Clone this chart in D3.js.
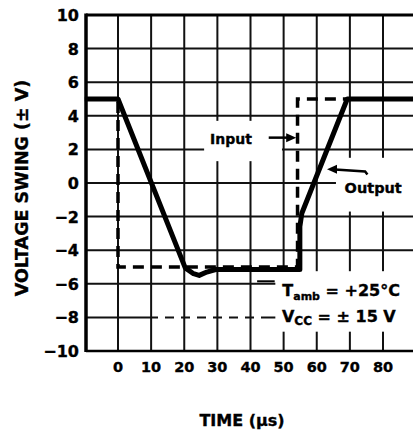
<!DOCTYPE html>
<html>
<head>
<meta charset="utf-8">
<script src="https://cdn.jsdelivr.net/npm/d3@7"></script>
<style>
  body { margin: 0; background: #fff; }
  svg { display: block; }
  text { font-family: "DejaVu Sans", sans-serif; font-weight: bold; fill: #000; stroke: #000; stroke-width: 0.35px; }
</style>
</head>
<body>
<div id="chart"></div>
<script>
const width = 413, height = 438;

// values
const timeTicks = [0, 10, 20, 30, 40, 50, 60, 70, 80];
const voltTicks = [-10, -8, -6, -4, -2, 0, 2, 4, 6, 8, 10];
const outputTime = [-10, 0, 20.3, 22.8, 24.5, 26.8, 29.5, 54.9, 54.9, 55.5, 69.2, 92];
const outputVolt = [5, 5, -5.05, -5.4, -5.5, -5.3, -5.15, -5.15, -2.6, -1.8, 5, 5];
const inputTime = [-10, 0, 0, 54.2, 54.2, 92];
const inputVolt = [5, 5, -5, -5, 5, 5];

const margin = {top: 15, left: 86, right: 0, bottom: 87};

const x = d3.scaleLinear().domain([0, 80]).range([118, 383]);
const y = d3.scaleLinear().domain([-10, 10]).range([351, 15]);

const svg = d3.select("#chart").append("svg")
    .attr("width", width)
    .attr("height", height);

// grid
svg.append("g")
  .selectAll("line")
  .data(voltTicks.filter(d => d !== 10 && d !== -10))
  .enter().append("line")
    .attr("x1", margin.left).attr("x2", width)
    .attr("y1", d => y(d)).attr("y2", d => y(d))
    .attr("stroke", "#111")
    .attr("stroke-width", 2)
    .attr("stroke-dasharray", d => d === -8 ? "72,7,9,7,9,7,9,7,9,7,9,7,9,7,400" : null);

svg.append("g")
  .selectAll("line")
  .data(timeTicks)
  .enter().append("line")
    .attr("x1", d => x(d)).attr("x2", d => x(d))
    .attr("y1", y(10)).attr("y2", y(-10))
    .attr("stroke", "#111")
    .attr("stroke-width", 2);

// frame
svg.append("line").attr("x1", margin.left).attr("x2", width)
    .attr("y1", y(10)).attr("y2", y(10))
    .attr("stroke", "#000").attr("stroke-width", 3);
svg.append("line").attr("x1", margin.left).attr("x2", width)
    .attr("y1", y(-10)).attr("y2", y(-10))
    .attr("stroke", "#000").attr("stroke-width", 2.5);
svg.append("line").attr("x1", margin.left).attr("x2", margin.left)
    .attr("y1", y(10) - 1.5).attr("y2", y(-10) + 1)
    .attr("stroke", "#000").attr("stroke-width", 3.5);

// white patches behind the annotations
const boxes = [
  {t0: 26, t1: 49.5, v0: 3.7, v1: 1.3},
  {t0: 65.8, t1: 92, v0: 1.5, v1: -1.7},
  {t0: 47.5, t1: 92, v0: -5.25, v1: -8.85}
];
svg.append("g")
  .selectAll("rect")
  .data(boxes)
  .enter().append("rect")
    .attr("x", d => x(d.t0))
    .attr("y", d => y(d.v0))
    .attr("width", d => x(d.t1) - x(d.t0))
    .attr("height", d => y(d.v1) - y(d.v0))
    .attr("fill", "#fff");

// curves
const line = d3.line()
    .x(d => x(d[0]))
    .y(d => y(d[1]));

svg.append("path")
    .datum(inputTime.map((t, i) => [t, inputVolt[i]]))
    .attr("d", line)
    .attr("fill", "none")
    .attr("stroke", "#000")
    .attr("stroke-width", 3.5)
    .attr("stroke-dasharray", "11,7");

svg.append("path")
    .datum(outputTime.map((t, i) => [t, outputVolt[i]]))
    .attr("d", line)
    .attr("fill", "none")
    .attr("stroke", "#000")
    .attr("stroke-width", 5)
    .attr("stroke-linejoin", "round");

// axes labels
svg.append("g")
  .selectAll("text")
  .data(voltTicks)
  .enter().append("text")
    .attr("x", 79)
    .attr("y", d => y(d) + 6)
    .attr("text-anchor", "end")
    .style("font-size", "16px")
    .text(d => d < 0 ? "\u2212" + Math.abs(d) : d);

svg.append("g")
  .selectAll("text")
  .data(timeTicks)
  .enter().append("text")
    .attr("x", d => x(d))
    .attr("y", 372)
    .attr("text-anchor", "middle")
    .style("font-size", "14.5px")
    .text(d => d);

svg.append("text")
    .attr("transform", "translate(28," + 188 + ") rotate(-90)")
    .attr("text-anchor", "middle")
    .style("font-size", "17.5px")
    .text("VOLTAGE SWING (\u00b1 V)");

svg.append("text")
    .attr("x", 242)
    .attr("y", 426)
    .attr("text-anchor", "middle")
    .style("font-size", "16px")
    .text("TIME (\u00b5s)");

// annotations
svg.append("text")
    .attr("x", x(27.8)).attr("y", y(2.35))
    .style("font-size", "14px")
    .text("Input");

svg.append("text")
    .attr("x", x(68.4)).attr("y", y(-0.6))
    .style("font-size", "14.5px")
    .text("Output");

const tamb = svg.append("text")
    .attr("x", x(49.6)).attr("y", y(-6.75))
    .style("font-size", "16px");
tamb.append("tspan").text("T");
tamb.append("tspan").attr("dy", 4).style("font-size", "11px").text("amb");
tamb.append("tspan").attr("dy", -4).text(" = +25\u00b0C");

const vcc = svg.append("text")
    .attr("x", x(49.5)).attr("y", y(-8.25))
    .style("font-size", "16px");
vcc.append("tspan").text("V");
vcc.append("tspan").attr("dy", 3).style("font-size", "12px").text("CC");
vcc.append("tspan").attr("dy", -3).text(" = \u00b1 15 V");

// leader for Tamb
svg.append("line")
    .attr("x1", x(42)).attr("x2", x(47.3))
    .attr("y1", y(-5.85)).attr("y2", y(-5.85))
    .attr("stroke", "#000").attr("stroke-width", 2);

// arrows
const arrows = [
  {pts: [[45.5, 2.7], [52.2, 2.7]], tip: [53.8, 2.7], dir: 1},
  {pts: [[75.3, 0.5], [74.6, 0.68], [65.5, 0.8]], tip: [63.1, 0.82], dir: -1}
];
arrows.forEach(a => {
  svg.append("path")
      .datum(a.pts)
      .attr("d", line)
      .attr("fill", "none")
      .attr("stroke", "#000")
      .attr("stroke-width", 2.5);
  const tx = x(a.tip[0]), ty = y(a.tip[1]);
  svg.append("path")
      .attr("d", `M${tx},${ty} L${tx - a.dir * 10},${ty - 4.5} L${tx - a.dir * 10},${ty + 4.5} Z`)
      .attr("fill", "#000");
});
</script>
</body>
</html>
